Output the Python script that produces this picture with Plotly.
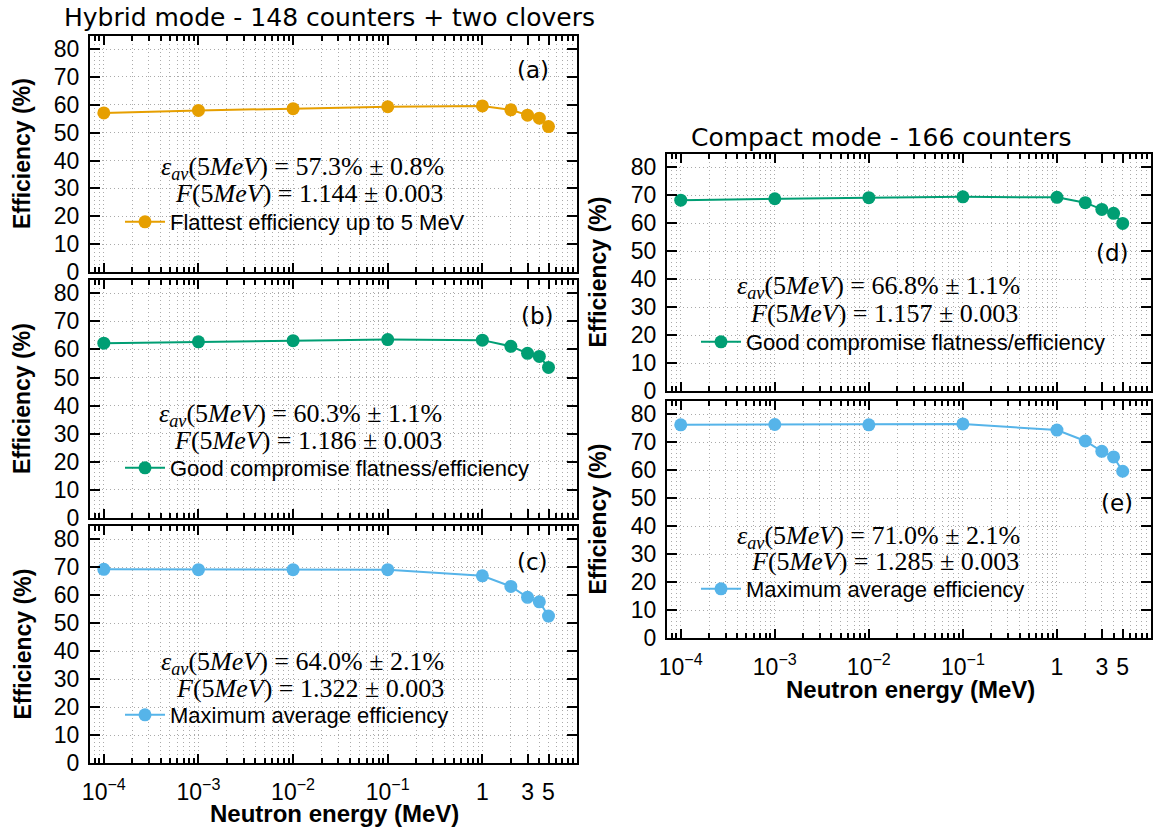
import plotly.graph_objects as go

# ---------------- data ----------------
energy = [1e-4, 1e-3, 1e-2, 1e-1, 1, 2, 3, 4, 5]  # MeV

eff_hybrid_flat = [57.1, 58.0, 58.6, 59.3, 59.6, 58.2, 56.3, 55.2, 52.2]
eff_hybrid_comp = [62.2, 62.7, 63.1, 63.5, 63.3, 61.1, 58.6, 57.5, 53.6]
eff_hybrid_max = [69.2, 69.1, 69.1, 69.1, 66.9, 63.1, 59.2, 57.6, 52.5]
eff_compact_comp = [68.2, 68.7, 69.1, 69.4, 69.2, 67.3, 64.9, 63.5, 59.9]
eff_compact_max = [76.2, 76.3, 76.2, 76.5, 74.3, 70.4, 66.7, 64.7, 59.6]

series_names = [
    "Flattest efficiency up to 5 MeV",
    "Good compromise flatness/efficiency",
    "Maximum average efficiency",
    "Good compromise flatness/efficiency",
    "Maximum average efficiency",
]
panel_labels = ["(a)", "(b)", "(c)", "(d)", "(e)"]
eps_values = ["57.3% ± 0.8%", "60.3% ± 1.1%", "64.0% ± 2.1%", "66.8% ± 1.1%", "71.0% ± 2.1%"]
f_values = ["1.144 ± 0.003", "1.186 ± 0.003", "1.322 ± 0.003", "1.157 ± 0.003", "1.285 ± 0.003"]

x_major = [1e-4, 1e-3, 1e-2, 1e-1, 1, 3, 5]
x_major_text = ["10<sup>−4</sup>", "10<sup>−3</sup>", "10<sup>−2</sup>", "10<sup>−1</sup>", "1", "3", "5"]
x_minor = [7e-5, 8e-5, 9e-5] + [k * 10.0 ** e for e in (-4, -3, -2, -1) for k in range(2, 10)] + [2, 4, 6, 7, 8, 9, 10]
y_ticks = [0, 10, 20, 30, 40, 50, 60, 70, 80]

# ---------------- layout helpers ----------------
W, H = 1153, 827
def px(x):
    return x / W
def py(y):
    return 1 - y / H

colors = ["#E69F00", "#009E73", "#56B4E9", "#009E73", "#56B4E9"]
series = [eff_hybrid_flat, eff_hybrid_comp, eff_hybrid_max, eff_compact_comp, eff_compact_max]

# panel frames in pixels: (x0, x1, ytop, ybottom)
frames = [
    (90, 577, 36, 272),
    (90, 577, 280, 518),
    (90, 577, 526, 763),
    (667, 1151, 154, 391),
    (667, 1151, 401, 638),
]
bottom_panels = {2, 4}

# text positions (pixels)
label_pos = [(533, 70), (537, 316), (532, 562), (1112, 253), (1117, 503)]
eps_pos = [(302, 168), (300, 415), (302, 663), (878, 287), (879, 537)]
f_pos = [(309, 193), (308, 440), (310, 688), (884, 313), (885, 561)]
legend_pos = [(120, 222), (120, 468), (120, 715), (696, 342), (696, 589)]
ytitle_x = [22, 22, 22, 597, 597]
xtitle_pos = [(334, 813), None, None, (910, 689), None]

SANS = "Liberation Sans, Arial, sans-serif"
TITLE_FONT = "DejaVu Sans, sans-serif"
SERIF = "Liberation Serif, Times New Roman, serif"
GRID = "#aaaaaa"
DASH = "1px,3px"

fig = go.Figure()
layout = dict(
    width=W, height=H, autosize=False,
    margin=dict(l=0, r=0, t=0, b=0, pad=0),
    paper_bgcolor="white", plot_bgcolor="white",
    annotations=[],
)

for i in range(5):
    sfx = "" if i == 0 else str(i + 1)
    leg = "legend" if i == 0 else "legend" + str(i + 1)
    fig.add_trace(go.Scatter(
        x=energy, y=series[i], mode="lines+markers",
        name=series_names[i],
        line=dict(color=colors[i], width=2),
        marker=dict(color=colors[i], size=13),
        xaxis="x" + sfx, yaxis="y" + sfx, legend=leg,
        showlegend=True,
    ))
    x0, x1, yt, yb = frames[i]
    xa = dict(
        type="log", domain=[px(x0), px(x1)], range=[-4.146, 1.0],
        anchor="y" + sfx, automargin=False,
        tickmode="array", tickvals=x_major, ticktext=x_major_text,
        showticklabels=(i in bottom_panels), ticklabelstandoff=7,
        ticks="inside", ticklen=9, tickwidth=2, tickcolor="black",
        showline=True, linewidth=2, linecolor="black", mirror="ticks",
        showgrid=True, gridcolor=GRID, griddash=DASH, gridwidth=1,
        zeroline=False,
        tickfont=dict(family=SANS, size=23, color="black"),
        minor=dict(tickmode="array", tickvals=x_minor, ticks="inside", ticklen=5,
                   tickwidth=1.5, tickcolor="black",
                   showgrid=True, gridcolor=GRID, griddash=DASH, gridwidth=1),
    )
    ya = dict(
        domain=[py(yb), py(yt)], range=[0, 84.7], anchor="x" + sfx, automargin=False,
        tickmode="array", tickvals=y_ticks,
        ticks="inside", ticklen=10, tickwidth=2, tickcolor="black",
        showline=True, linewidth=2, linecolor="black", mirror="ticks",
        showgrid=True, gridcolor=GRID, griddash=DASH, gridwidth=1,
        zeroline=False, ticklabelstandoff=4,
        tickfont=dict(family=SANS, size=23, color="black"),
    )
    layout["xaxis" + sfx] = xa
    layout["yaxis" + sfx] = ya

    lx, ly = legend_pos[i]
    layout[leg] = dict(
        x=px(lx), y=py(ly), xanchor="left", yanchor="middle",
        bgcolor="rgba(0,0,0,0)", borderwidth=0,
        font=dict(family=SANS, size=22, color="black"),
        itemwidth=40, tracegroupgap=0,
    )

    # y-axis title
    layout["annotations"].append(dict(
        x=px(ytitle_x[i]), y=py((yt + yb) / 2), xref="paper", yref="paper", showarrow=False,
        text="<b>Efficiency (%)</b>", textangle=-90,
        font=dict(family=SANS, size=23, color="black"),
        xanchor="center", yanchor="middle"))
    if xtitle_pos[i] is not None:
        tx, ty = xtitle_pos[i]
        layout["annotations"].append(dict(
            x=px(tx), y=py(ty), xref="paper", yref="paper", showarrow=False,
            text="<b>Neutron energy (MeV)</b>",
            font=dict(family=SANS, size=24, color="black"),
            xanchor="center", yanchor="middle"))

    ax, ay = label_pos[i]
    layout["annotations"].append(dict(
        x=px(ax), y=py(ay), xref="paper", yref="paper", showarrow=False,
        text=panel_labels[i], font=dict(family=TITLE_FONT, size=23, color="black"),
        xanchor="center", yanchor="middle"))
    ex, ey = eps_pos[i]
    layout["annotations"].append(dict(
        x=px(ex), y=py(ey), xref="paper", yref="paper", showarrow=False,
        text="<i>ε</i><sub><i>av</i></sub>(5<i>MeV</i>) = " + eps_values[i],
        font=dict(family=SERIF, size=26, color="black"),
        xanchor="center", yanchor="middle"))
    fx, fy = f_pos[i]
    layout["annotations"].append(dict(
        x=px(fx), y=py(fy), xref="paper", yref="paper", showarrow=False,
        text="<i>F</i>(5<i>MeV</i>) = " + f_values[i],
        font=dict(family=SERIF, size=26, color="black"),
        xanchor="center", yanchor="middle"))

layout["annotations"].append(dict(
    x=px(329), y=py(17), xref="paper", yref="paper", showarrow=False,
    text="Hybrid mode - 148 counters + two clovers",
    font=dict(family=TITLE_FONT, size=25, color="black"),
    xanchor="center", yanchor="middle"))
layout["annotations"].append(dict(
    x=px(881), y=py(137), xref="paper", yref="paper", showarrow=False,
    text="Compact mode - 166 counters",
    font=dict(family=TITLE_FONT, size=25, color="black"),
    xanchor="center", yanchor="middle"))

fig.update_layout(**layout)
fig.write_html(
    "out.html",
    config={"displayModeBar": False},
    post_script="document.body.style.margin='0px';document.body.style.padding='0px';",
)
